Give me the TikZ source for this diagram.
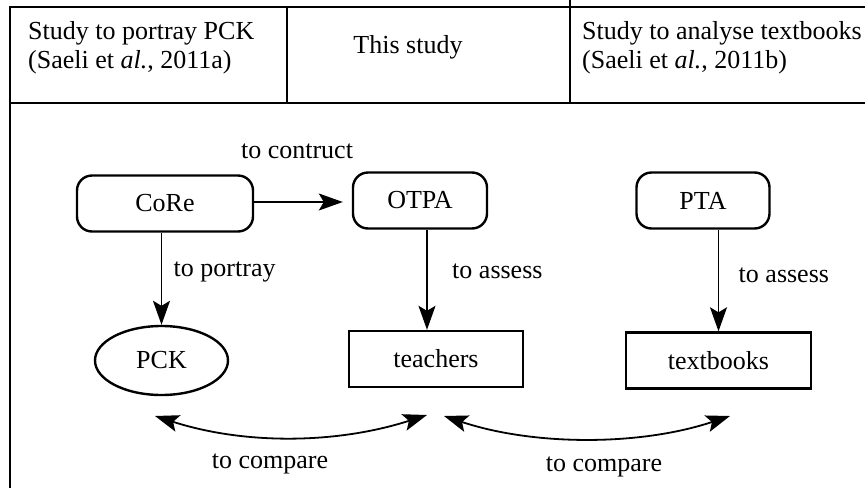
\documentclass[tikz,border=0pt]{standalone}
\usepackage{fontspec}
\setmainfont{Liberation Serif}
\usetikzlibrary{shapes,arrows.meta,positioning}

\begin{document}
\begin{tikzpicture}[x=1pt,y=-1pt,>={Stealth[length=24pt,width=17pt,inset=5pt]},
    line width=1.8pt,font=\fontsize{26}{29}\selectfont]
\tikzstyle{tool}=[rectangle, rounded corners=15pt, draw, line width=2.4pt, minimum height=56pt]
\tikzstyle{target}=[rectangle, draw, line width=2.4pt, minimum height=56pt]
\tikzstyle{frame}=[line width=2.2pt]

\useasboundingbox (0,0) rectangle (865,488);

% table head
\draw[frame] (10,488) -- (10,7) -- (865,7);
\draw[frame] (10,103) -- (865,103);
\draw (287,7) -- (287,103);
\draw (570,0) -- (570,103);

\node[align=left, anchor=west]  (pckstudy)  at (24,48)  {Study to portray PCK\\(Saeli et \textit{al.}, 2011a)};
\node                           (thisstudy) at (408,47) {This study};
\node[align=left, anchor=west]  (tbstudy)   at (578,48) {Study to analyse textbooks\\(Saeli et \textit{al.}, 2011b)};

% instruments and what they work on
\node[tool, minimum width=176pt]        (CoRe)      at (165,203.5)   {CoRe};
\node[tool, minimum width=134pt]        (OTPA)      at (420,200.5)   {OTPA};
\node[tool, minimum width=133pt]        (PTA)       at (703,200.5)   {PTA};

\node[ellipse, draw, line width=2.4pt, minimum width=133pt, minimum height=69pt]
                                        (PCK)       at (161.5,360.5) {PCK};
\node[target, minimum width=174pt]      (teachers)  at (436,359)     {teachers};
\node[target, minimum width=185pt]      (textbooks) at (718.5,360.5) {textbooks};

\path[->] (CoRe.east |- 0,202)  edge[shorten >=9pt] node[above, xshift=-6pt, yshift=39pt]  {to contruct} (OTPA.west |- 0,202)
          (CoRe.south -| PCK.north)     edge node[right, xshift=8pt, yshift=7pt]   {to portray}  (PCK.north)
          ([xshift=7pt]OTPA.south)      edge node[right, xshift=21pt, yshift=8pt]  {to assess}   ([xshift=-9pt]teachers.north)
          (PTA.south -| textbooks.north) edge node[right, xshift=16pt, yshift=5pt] {to assess}   (textbooks.north);

% comparisons
\coordinate (p1) at (155,416);
\coordinate (p2) at (427,415);
\coordinate (p3) at (444,416);
\coordinate (p4) at (730,416);

\draw[<->] (p1) .. controls +(90,29) and +(-90,29) .. (p2)
    node[pos=.5, below, xshift=-21pt, yshift=-12pt] {to compare};
\draw[<->] (p3) .. controls +(90,30) and +(-90,30) .. (p4)
    node[pos=.5, below, xshift=17pt, yshift=-14pt] {to compare};

\end{tikzpicture}
\end{document}
